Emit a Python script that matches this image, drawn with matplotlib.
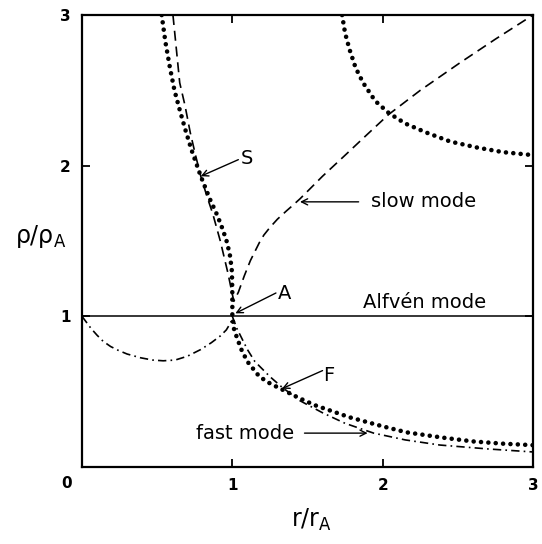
import matplotlib
matplotlib.use("Agg")
import matplotlib.pyplot as plt

# ---- data ----
slow_x = [0.605, 0.63, 0.65, 0.685, 0.72, 0.755, 0.79, 0.83, 0.87, 0.92, 0.97, 0.995, 1.01,
          1.04, 1.08, 1.12, 1.15, 1.18, 1.21, 1.25, 1.3, 1.36, 1.4, 1.45, 1.52, 1.6, 1.74,
          1.9, 2.04, 2.25, 2.51, 2.75, 3.0]
slow_y = [3.0, 2.75, 2.55, 2.4, 2.22, 2.07, 1.93, 1.8, 1.68, 1.5, 1.29, 1.17, 1.1,
          1.16, 1.27, 1.37, 1.43, 1.49, 1.54, 1.59, 1.645, 1.70, 1.735, 1.78, 1.85, 1.93, 2.06,
          2.21, 2.34, 2.5, 2.68, 2.84, 3.0]

sf_x = [0.53, 0.555, 0.585, 0.615, 0.65, 0.69, 0.73, 0.79, 0.85, 0.9, 0.935, 0.965, 0.985,
        0.997, 1.0, 1.0, 1.01, 1.03, 1.06, 1.1, 1.18, 1.25, 1.33, 1.45, 1.55, 1.78, 2.0,
        2.16, 2.4, 2.6, 2.8, 3.0]
sf_y = [3.0, 2.82, 2.65, 2.5, 2.37, 2.23, 2.1, 1.93, 1.78, 1.67, 1.58, 1.49, 1.4,
        1.3, 1.15, 1.0, 0.92, 0.86, 0.78, 0.7, 0.6, 0.555, 0.515, 0.455, 0.41, 0.33, 0.27,
        0.23, 0.195, 0.17, 0.155, 0.145]

dot2_x = [1.73, 1.75, 1.78, 1.82, 1.87, 1.95, 2.04, 2.15, 2.29, 2.45, 2.63, 2.8, 3.0]
dot2_y = [3.0, 2.88, 2.77, 2.65, 2.55, 2.43, 2.35, 2.28, 2.22, 2.16, 2.12, 2.09, 2.07]

fastl_x = [0.0, 0.03, 0.06, 0.1, 0.14, 0.19, 0.24, 0.3, 0.39, 0.47, 0.54, 0.62, 0.7,
           0.79, 0.86, 0.92, 0.96, 0.99, 1.0]
fastl_y = [1.0, 0.96, 0.92, 0.875, 0.835, 0.8, 0.775, 0.75, 0.725, 0.71, 0.705, 0.71, 0.735,
           0.78, 0.825, 0.87, 0.91, 0.96, 1.0]

fastr_x = [1.0, 1.03, 1.06, 1.1, 1.15, 1.25, 1.33, 1.45, 1.6, 1.75, 1.94, 2.15, 2.38,
           2.7, 3.0]
fastr_y = [1.0, 0.92, 0.86, 0.78, 0.7, 0.6, 0.53, 0.44, 0.36, 0.29, 0.225, 0.18, 0.146,
           0.12, 0.10]

alfven_x = [0.0, 3.0]
alfven_y = [1.0, 1.0]

xtick_vals = [0, 1, 2, 3]
xtick_labels = ["", "1", "2", "3"]
ytick_vals = [0, 1, 2, 3]
ytick_labels = ["", "1", "2", "3"]

fig = plt.figure(figsize=(5.42, 5.44), dpi=100)
ax = fig.add_axes([0.1513, 0.1415, 0.8321, 0.8309])

dot_style = dict(color="black", lw=3.3, linestyle=(0, (0.01, 1.6)),
                 dash_capstyle="round")
ax.plot(alfven_x, alfven_y, color="black", lw=1.1, solid_capstyle="butt")
ax.plot(slow_x, slow_y, color="black", lw=1.2, linestyle=(0, (6, 3.5)))
ax.plot(sf_x, sf_y, **dot_style)
ax.plot(dot2_x, dot2_y, **dot_style)
ax.plot(fastl_x, fastl_y, color="black", lw=1.2, linestyle=(0, (5, 2.5, 1, 2.5)))
ax.plot(fastr_x, fastr_y, color="black", lw=1.2, linestyle=(0, (5, 2.5, 1, 2.5)))

ax.set_xlim(0, 3)
ax.set_ylim(0, 3)
ax.set_xticks(xtick_vals)
ax.set_xticklabels(xtick_labels)
ax.set_yticks(ytick_vals)
ax.set_yticklabels(ytick_labels)
ax.tick_params(direction="in", length=6, width=1.3, top=True, right=True,
               labelsize=11, pad=8)
for lab in ax.get_xticklabels() + ax.get_yticklabels():
    lab.set_fontweight("bold")
for s in ax.spines.values():
    s.set_linewidth(1.6)

ax.annotate("0", xy=(0, 0), xytext=(-11, -12), textcoords="offset points",
            ha="center", va="center", fontsize=11, fontweight="bold")

tfs = 14
ax.text(2.28, 1.09, "Alfvén mode", ha="center", va="center", fontsize=tfs)
ax.text(2.27, 1.76, "slow mode", ha="center", va="center", fontsize=tfs)
ax.text(1.085, 0.225, "fast mode", ha="center", va="center", fontsize=tfs)
ax.text(1.10, 2.05, "S", ha="center", va="center", fontsize=tfs)
ax.text(1.35, 1.155, "A", ha="center", va="center", fontsize=tfs)
ax.text(1.64, 0.61, "F", ha="center", va="center", fontsize=tfs)

ap = dict(arrowstyle="->", lw=1.0, color="black", mutation_scale=11,
          shrinkA=0, shrinkB=0)
ax.annotate("", xy=(0.79, 1.93), xytext=(1.04, 2.04), arrowprops=ap)
ax.annotate("", xy=(1.02, 1.02), xytext=(1.29, 1.155), arrowprops=ap)
ax.annotate("", xy=(1.33, 0.52), xytext=(1.6, 0.64), arrowprops=ap)
ax.annotate("", xy=(1.45, 1.76), xytext=(1.84, 1.76), arrowprops=ap)
ax.annotate("", xy=(1.9, 0.225), xytext=(1.48, 0.225), arrowprops=ap)

fig.text(41 / 542, 1 - 237 / 544, "ρ/ρ$_{\\mathrm{A}}$", ha="center", va="center",
         fontsize=17)
fig.text(311 / 542, 1 - 520 / 544, "r/r$_{\\mathrm{A}}$", ha="center", va="center",
         fontsize=17)

fig.savefig("out.png", dpi=100)
